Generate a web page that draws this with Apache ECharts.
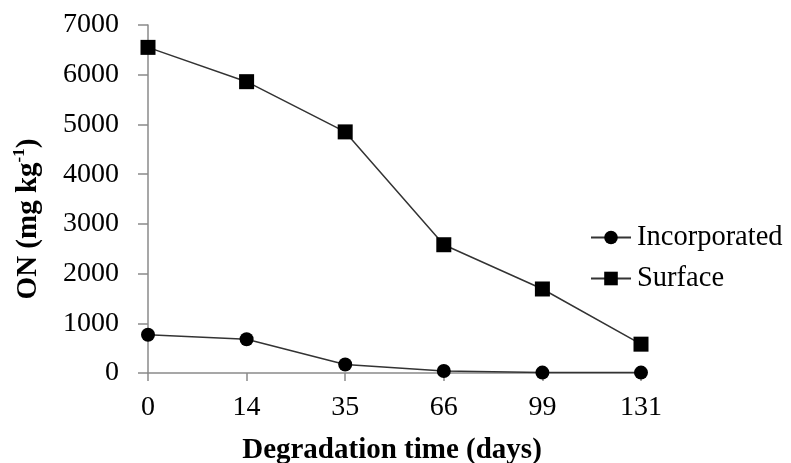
<!DOCTYPE html>
<html><head><meta charset="utf-8">
<script src="https://cdn.jsdelivr.net/npm/echarts@6/dist/echarts.min.js"></script>
<style>html,body{margin:0;padding:0;background:#fff}#c{width:791px;height:463px}</style>
</head><body><div id="c"></div>
<script>
const categories = ['0', '14', '35', '66', '99', '131'];
const incorporated = [770, 680, 170, 40, 8, 8];
const surface = [6550, 5860, 4850, 2580, 1690, 580];
const yTicks = {min: 0, max: 7000, interval: 1000};

const serif = '"Liberation Serif", "Times New Roman", serif';
const chart = echarts.init(document.getElementById('c'));
chart.setOption({
  animation: false,
  backgroundColor: '#fff',
  grid: {left: 148, right: 150, top: 25, bottom: 90, containLabel: false},
  xAxis: {
    type: 'category', data: categories, boundaryGap: false,
    axisLine: {lineStyle: {color: '#8a8a8a', width: 1.5}},
    axisTick: {show: true, alignWithLabel: true, length: 8, lineStyle: {color: '#8a8a8a', width: 1.5}},
    axisLabel: {color: '#000', fontFamily: serif, fontSize: 28, margin: 21},
    splitLine: {show: false}
  },
  yAxis: {
    type: 'value', min: yTicks.min, max: yTicks.max, interval: yTicks.interval,
    axisLine: {show: true, lineStyle: {color: '#8a8a8a', width: 1.5}},
    axisTick: {show: true, length: 10, lineStyle: {color: '#8a8a8a', width: 1.5}},
    axisLabel: {color: '#000', fontFamily: serif, fontSize: 28, margin: 29, formatter: v => String(v)},
    splitLine: {show: false}
  },
  legend: {
    orient: 'vertical', left: 585, top: 218, itemGap: 12,
    itemWidth: 40, itemHeight: 17,
    textStyle: {fontFamily: serif, fontSize: 28.5, color: '#000', padding: [0, 0, 0, 1]},
    data: ['Incorporated', 'Surface']
  },
  graphic: [
    {type: 'text', x: 392, y: 451, style: {text: 'Degradation time (days)', font: 'bold 29px ' + serif, fill: '#000', align: 'center', verticalAlign: 'middle'}},
    {type: 'text', x: 27, y: 219, rotation: Math.PI / 2,
     style: {text: '{b|ON (mg kg}{s|-1}{b|)}', fill: '#000', align: 'center', verticalAlign: 'middle',
       rich: {b: {fontFamily: serif, fontWeight: 'bold', fontSize: 29, fill: '#000', lineHeight: 32, verticalAlign: 'bottom'},
              s: {fontFamily: serif, fontWeight: 'bold', fontSize: 17, fill: '#000', lineHeight: 32, verticalAlign: 'top'}}}}
  ],
  series: [
    {name: 'Incorporated', type: 'line', data: incorporated, symbol: 'circle', symbolSize: 14,
     lineStyle: {color: '#333', width: 1.5}, itemStyle: {color: '#000'}},
    {name: 'Surface', type: 'line', data: surface, symbol: 'rect', symbolSize: 15,
     lineStyle: {color: '#333', width: 1.5}, itemStyle: {color: '#000'}}
  ]
});
</script></body></html>
